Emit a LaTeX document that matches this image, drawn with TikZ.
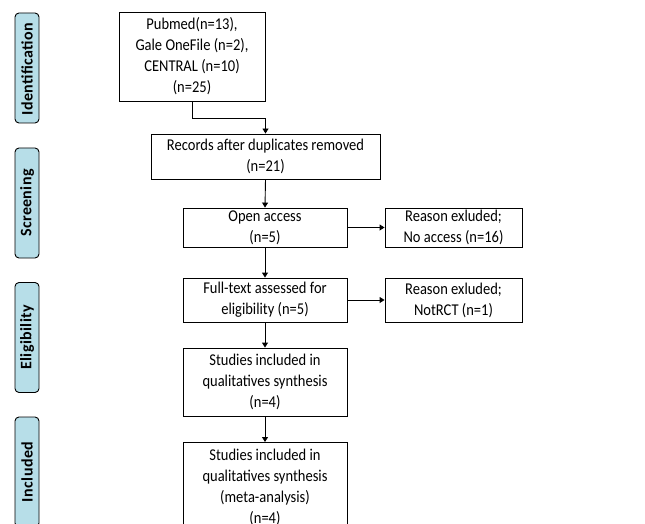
\documentclass[tikz,border=0pt]{standalone}
\usepackage{fontspec}
\setmainfont{Carlito}
\newfontfamily\boxfont[FakeStretch=0.88]{Carlito}
\newfontfamily\phasefont[LetterSpace=2.5]{Carlito}
\usetikzlibrary{arrows.meta,calc}
\definecolor{phase}{RGB}{183,222,232}
\tikzset{
  box/.style={draw=black,line width=0.9pt,fill=white,align=center,inner sep=2pt,
    font=\boxfont\fontsize{16.5}{21}\selectfont},
  phasebox/.style={draw=black,line width=0.9pt,fill=phase,rounded corners=4pt,
    minimum width=24pt,minimum height=110pt,inner sep=0pt},
  phasetext/.style={rotate=90,font=\phasefont\fontsize{16}{18}\selectfont\bfseries},
  arr/.style={line width=0.9pt,-{Triangle[length=5pt,width=6pt]}}
}
\begin{document}
\begin{tikzpicture}[x=1pt,y=-1pt]
\useasboundingbox (0,0) rectangle (645,524);
\clip (0,0) rectangle (645,524);
% phase labels
\node[phasebox] (p1) at (27,68) {};
\node[phasetext] at ($(p1)+(0,1)$) {Identification};
\node[phasebox] (p2) at (27,203) {};
\node[phasetext] at (p2) {Screening};
\node[phasebox] (p3) at (27,337.5) {};
\node[phasetext] at (p3) {Eligibility};
\node[phasebox] (p4) at (27,472) {};
\node[phasetext] at (p4) {Included};
% boxes
\node[box,minimum width=146pt,minimum height=89pt] (b1) at (192,56.5)
  {Pubmed(n=13),\\Gale OneFile (n=2),\\CENTRAL (n=10)\\(n=25)};
\node[box,minimum width=229pt,minimum height=45pt] (b2) at (265.5,156.5)
  {Records after duplicates removed\\(n=21)};
\node[box,minimum width=164pt,minimum height=39pt] (b3) at (265,227.5)
  {Open access\\(n=5)};
\node[box,minimum width=137pt,minimum height=39pt] (e1) at (453.5,227.5)
  {Reason exluded;\\No access (n=16)};
\node[box,minimum width=164pt,minimum height=44pt] (b4) at (265,300)
  {Full-text assessed for\\eligibility (n=5)};
\node[box,minimum width=137pt,minimum height=44pt] (e2) at (453.5,300)
  {Reason exluded;\\NotRCT (n=1)};
\node[box,minimum width=164pt,minimum height=68pt] (b5) at (265,382)
  {Studies included in\\qualitatives synthesis\\(n=4)};
\node[box,minimum width=164pt,minimum height=90pt,anchor=north] (b6) at (265,442)
  {Studies included in\\qualitatives synthesis\\(meta-analysis)\\(n=4)};
% connectors
\draw[arr] (b1.south) -- ++(0,17) -| (b2.north);
\draw[arr] (b2.south) -- (b3.north);
\draw[arr] (b3.east) -- (e1.west);
\draw[arr] (b3.south) -- (b4.north);
\draw[arr] (b4.east) -- (e2.west);
\draw[arr] (b4.south) -- (b5.north);
\draw[arr] (b5.south) -- (b6.north);
\end{tikzpicture}
\end{document}
